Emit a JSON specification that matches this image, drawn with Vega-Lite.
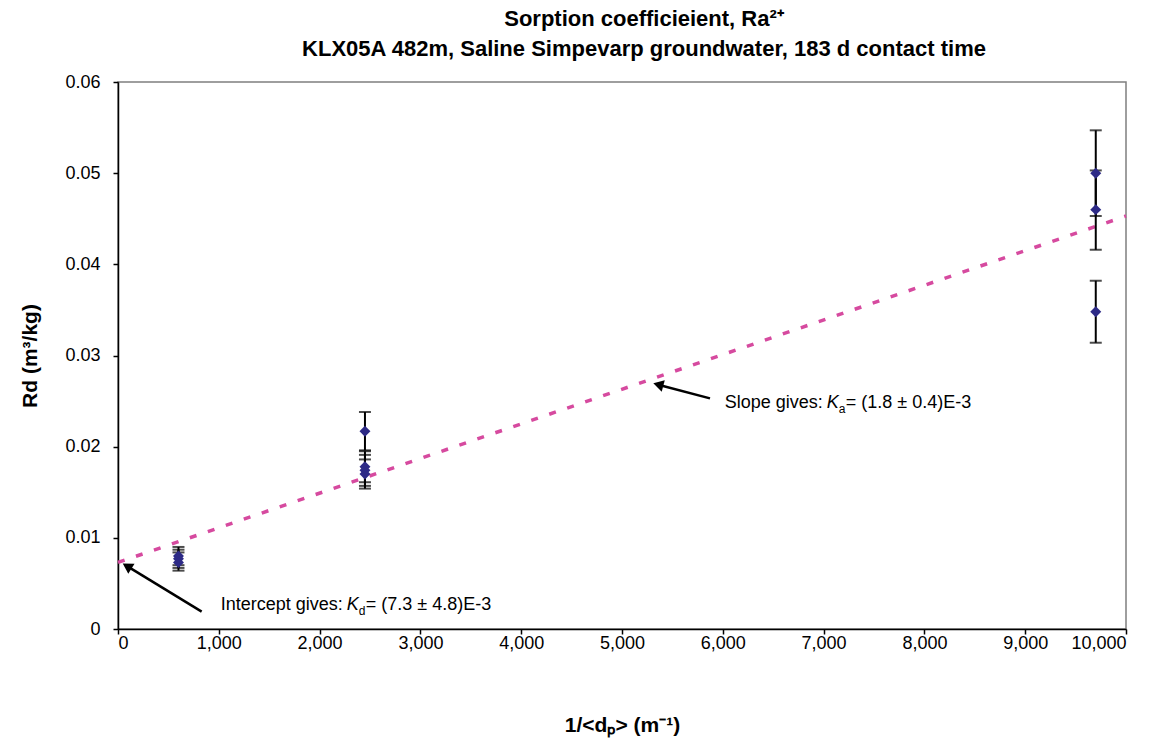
{
  "$schema": "https://vega.github.io/schema/vega-lite/v6.json",
  "width": 1008,
  "height": 547,
  "autosize": {"type": "none"},
  "padding": {"left": 118, "top": 82, "right": 32, "bottom": 113},
  "background": "white",
  "title": {
    "text": ["Sorption coefficieient, Ra²⁺", "KLX05A 482m, Saline Simpevarp groundwater, 183 d contact time"],
    "font": "Liberation Sans",
    "fontSize": 22,
    "fontWeight": "bold",
    "color": "black",
    "anchor": "middle",
    "dx": 22,
    "offset": 12,
    "lineHeight": 30
  },
  "config": {
    "view": {"stroke": "#7f7f7f", "strokeWidth": 1.5},
    "axis": {
      "grid": false,
      "domainColor": "black",
      "domainWidth": 1.5,
      "tickColor": "black",
      "tickWidth": 1.5,
      "tickSize": 5,
      "labelFont": "Liberation Sans",
      "labelFontSize": 18,
      "labelColor": "black",
      "titleFont": "Liberation Sans",
      "titleFontSize": 21,
      "titleFontWeight": "bold",
      "titleColor": "black"
    }
  },
  "datasets": {
    "pts": [
      {"x": 600, "rd": 0.0080, "lo": 0.0070, "hi": 0.0090},
      {"x": 600, "rd": 0.0077, "lo": 0.0067, "hi": 0.0087},
      {"x": 600, "rd": 0.0073, "lo": 0.0064, "hi": 0.0084},
      {"x": 2450, "rd": 0.0217, "lo": 0.0196, "hi": 0.0238},
      {"x": 2450, "rd": 0.0178, "lo": 0.0161, "hi": 0.0195},
      {"x": 2450, "rd": 0.0174, "lo": 0.0157, "hi": 0.0191},
      {"x": 2450, "rd": 0.0170, "lo": 0.0154, "hi": 0.0186},
      {"x": 9700, "rd": 0.0500, "lo": 0.0453, "hi": 0.0547},
      {"x": 9700, "rd": 0.0460, "lo": 0.0416, "hi": 0.0503},
      {"x": 9700, "rd": 0.0348, "lo": 0.0314, "hi": 0.0382}
    ],
    "fit": [
      {"x": 0, "rd": 0.0073},
      {"x": 10000, "rd": 0.0453}
    ],
    "arrows": [
      {"id": "slope", "x": 5873, "rd": 0.0253, "end": "tail"},
      {"id": "slope", "x": 5360, "rd": 0.0268, "end": "tip"},
      {"id": "intercept", "x": 830, "rd": 0.0019, "end": "tail"},
      {"id": "intercept", "x": 90, "rd": 0.0069, "end": "tip"}
    ],
    "notes": [
      {"x": 7031, "rd": 0.0242, "pre": "Slope gives:", "k": "K", "sub": "a", "post": "= (1.8 ± 0.4)E-3"},
      {"x": 2269, "rd": 0.0021, "pre": "Intercept gives:", "k": "K", "sub": "d", "post": "= (7.3 ± 4.8)E-3"}
    ]
  },
  "encoding": {
    "x": {
      "field": "x",
      "type": "quantitative",
      "scale": {"domain": [0, 10000], "nice": false},
      "axis": {
        "title": "1/<dₚ> (m⁻¹)",
        "values": [0, 1000, 2000, 3000, 4000, 5000, 6000, 7000, 8000, 9000, 10000],
        "format": ",.0f",
        "labelPadding": 0,
        "titlePadding": 62
      }
    },
    "y": {
      "field": "rd",
      "type": "quantitative",
      "scale": {"domain": [0, 0.06], "nice": false},
      "axis": {
        "title": "Rd (m³/kg)",
        "values": [0, 0.01, 0.02, 0.03, 0.04, 0.05, 0.06],
        "format": ".2~f",
        "labelPadding": 13,
        "titlePadding": 24
      }
    }
  },
  "layer": [
    {
      "data": {"name": "fit"},
      "mark": {"type": "line", "color": "#d64a9f", "strokeWidth": 3.5, "strokeDash": [7, 12]},
      "encoding": {}
    },
    {
      "data": {"name": "pts"},
      "mark": {"type": "rule", "color": "black", "strokeWidth": 2},
      "encoding": {"y": {"field": "lo", "type": "quantitative"}, "y2": {"field": "hi"}}
    },
    {
      "data": {"name": "pts"},
      "mark": {"type": "tick", "orient": "horizontal", "color": "black", "size": 12, "thickness": 2},
      "encoding": {"y": {"field": "lo", "type": "quantitative"}}
    },
    {
      "data": {"name": "pts"},
      "mark": {"type": "tick", "orient": "horizontal", "color": "black", "size": 12, "thickness": 2},
      "encoding": {"y": {"field": "hi", "type": "quantitative"}}
    },
    {
      "data": {"name": "pts"},
      "mark": {"type": "point", "shape": "diamond", "filled": true, "size": 120, "color": "#2d2a86", "opacity": 1},
      "encoding": {}
    },
    {
      "data": {"name": "arrows"},
      "mark": {"type": "line", "color": "black", "strokeWidth": 2.5},
      "encoding": {"detail": {"field": "id"}}
    },
    {
      "data": {"name": "arrows"},
      "transform": [{"filter": "datum.id == 'slope' && datum.end == 'tip'"}],
      "mark": {"type": "point", "shape": "triangle-up", "filled": true, "size": 140, "color": "black", "opacity": 1, "angle": 285},
      "encoding": {}
    },
    {
      "data": {"name": "arrows"},
      "transform": [{"filter": "datum.id == 'intercept' && datum.end == 'tip'"}],
      "mark": {"type": "point", "shape": "triangle-up", "filled": true, "size": 140, "color": "black", "opacity": 1, "angle": 302},
      "encoding": {}
    },
    {
      "data": {"name": "notes"},
      "mark": {"type": "text", "align": "right", "baseline": "alphabetic", "dx": -4, "font": "Liberation Sans", "fontSize": 18, "color": "black"},
      "encoding": {"text": {"field": "pre"}}
    },
    {
      "data": {"name": "notes"},
      "mark": {"type": "text", "align": "left", "baseline": "alphabetic", "dx": 0, "font": "Liberation Sans", "fontSize": 18, "fontStyle": "italic", "color": "black"},
      "encoding": {"text": {"field": "k"}}
    },
    {
      "data": {"name": "notes"},
      "mark": {"type": "text", "align": "left", "baseline": "alphabetic", "dx": 12, "dy": 5, "font": "Liberation Sans", "fontSize": 12, "color": "black"},
      "encoding": {"text": {"field": "sub"}}
    },
    {
      "data": {"name": "notes"},
      "mark": {"type": "text", "align": "left", "baseline": "alphabetic", "dx": 19, "font": "Liberation Sans", "fontSize": 18, "color": "black"},
      "encoding": {"text": {"field": "post"}}
    }
  ]
}
